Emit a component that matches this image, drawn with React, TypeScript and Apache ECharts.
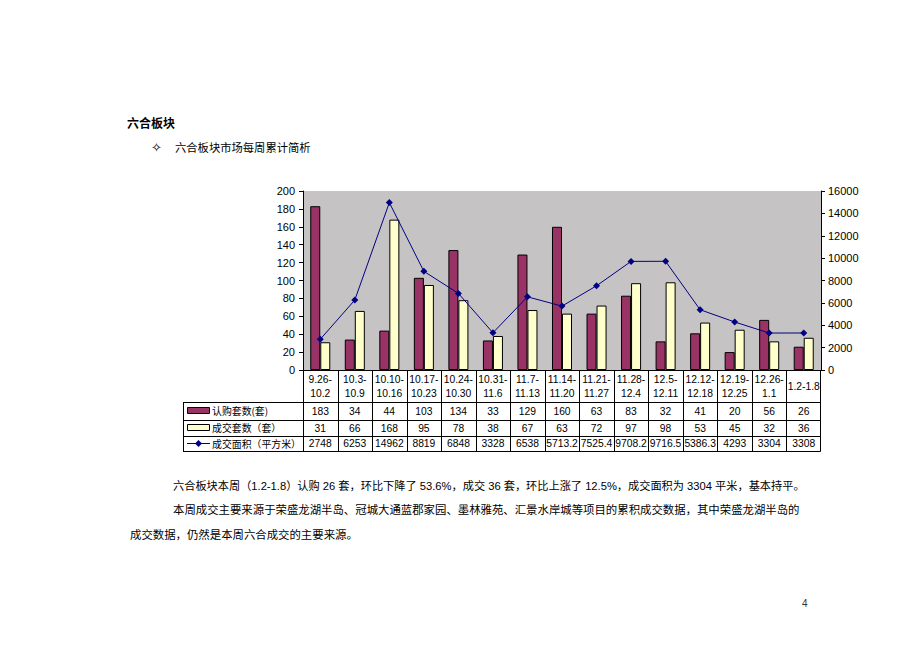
import React, { useEffect, useRef } from "react";
import * as echarts from "echarts";

const categories = [
  "9.26-10.2", "10.3-10.9", "10.10-10.16", "10.17-10.23", "10.24-10.30",
  "10.31-11.6", "11.7-11.13", "11.14-11.20", "11.21-11.27", "11.28-12.4",
  "12.5-12.11", "12.12-12.18", "12.19-12.25", "12.26-1.1", "1.2-1.8",
];
const subscribed = [183, 34, 44, 103, 134, 33, 129, 160, 63, 83, 32, 41, 20, 56, 26];
const deals = [31, 66, 168, 95, 78, 38, 67, 63, 72, 97, 98, 53, 45, 32, 36];
const area = [2748, 6253, 14962, 8819, 6848, 3328, 6538, 5713.2, 7525.4, 9708.2, 9716.5, 5386.3, 4293, 3304, 3308];
const seriesNames = ["认购套数(套)", "成交套数（套）", "成交面积（平方米）"];

const heading = "六合板块";
const subTitle = "六合板块市场每周累计简析";
const paragraphs = [
  "六合板块本周（1.2-1.8）认购 26 套，环比下降了 53.6%，成交 36 套，环比上涨了 12.5%，成交面积为 3304 平米，基本持平。",
  "本周成交主要来源于荣盛龙湖半岛、冠城大通蓝郡家园、墨林雅苑、汇景水岸城等项目的累积成交数据，其中荣盛龙湖半岛的",
  "成交数据，仍然是本周六合成交的主要来源。",
];
const pageNumber = "4";

const PURPLE = "#993366";
const YELLOW = "#ffffcc";
const NAVY = "#000080";
const CJK = "'Noto Sans CJK SC', sans-serif";
const LAT = "'Liberation Sans', 'Noto Sans CJK SC', sans-serif";

export default function App() {
  const ref = useRef<HTMLDivElement>(null);
  useEffect(() => {
    if (!ref.current) return;
    const chart = echarts.init(ref.current, null, { renderer: "svg" });

    const GL = 303, GT = 191, GW = 518, GH = 179;
    const GB = GT + GH; // 370
    const GR = GL + GW; // 821
    const colW = GW / categories.length;
    const TL = 183;
    const rowLines = [402, 420, 436, 451];
    const rowCenters = [411, 428, 443.5];

    const g: any[] = [];
    const line = (x1: number, y1: number, x2: number, y2: number) =>
      g.push({ type: "line", shape: { x1, y1, x2, y2 }, style: { stroke: "#000", lineWidth: 1 }, silent: true });

    // table borders
    rowLines.forEach((y) => line(TL, y + 0.5, GR - 0.5, y + 0.5));
    line(TL + 0.5, rowLines[0], TL + 0.5, rowLines[3] + 0.5);
    for (let i = 0; i <= categories.length; i++) {
      const x = Math.round(GL + i * colW) + 0.5 - (i === categories.length ? 1 : 0);
      line(x, GB, x, rowLines[3] + 0.5);
    }

    // header labels
    categories.forEach((c, i) => {
      const cx = GL + (i + 0.5) * colW;
      const txt = c.length > 7 ? c.replace("-", "-\n") : c;
      g.push({
        type: "text", x: cx, y: 386,
        style: { text: txt, font: `10.3px ${LAT}`, fill: "#000", align: "center", verticalAlign: "middle", lineHeight: 14 },
      });
    });

    // data rows
    const rows = [subscribed, deals, area];
    rows.forEach((arr, r) => {
      arr.forEach((v, i) => {
        const cx = GL + (i + 0.5) * colW;
        g.push({
          type: "text", x: cx, y: rowCenters[r],
          style: { text: String(v), font: `10.3px ${LAT}`, fill: "#000", align: "center", verticalAlign: "middle" },
        });
      });
      g.push({
        type: "text", x: 212, y: rowCenters[r],
        style: { text: seriesNames[r], font: `9.9px ${CJK}`, fill: "#000", align: "left", verticalAlign: "middle" },
      });
    });

    // legend keys
    g.push({ type: "rect", shape: { x: 187.5, y: 407.5, width: 22, height: 6 }, style: { fill: PURPLE, stroke: "#000", lineWidth: 1 } });
    g.push({ type: "rect", shape: { x: 187.5, y: 424.5, width: 22, height: 6 }, style: { fill: YELLOW, stroke: "#000", lineWidth: 1 } });
    g.push({ type: "line", shape: { x1: 187, y1: 443.5, x2: 210, y2: 443.5 }, style: { stroke: NAVY, lineWidth: 1 } });
    g.push({ type: "polygon", shape: { points: [[198.5, 440], [202, 443.5], [198.5, 447], [195, 443.5]] }, style: { fill: NAVY } });

    // page texts
    g.push({ type: "text", x: 127, y: 122, style: { text: heading, font: `bold 12px ${CJK}`, fill: "#000", verticalAlign: "middle" } });
    g.push({ type: "text", x: 151, y: 147, style: { text: "✧", font: `13px 'DejaVu Sans'`, fill: "#000", verticalAlign: "middle" } });
    g.push({ type: "text", x: 175, y: 147, style: { text: subTitle, font: `11.3px ${CJK}`, fill: "#000", verticalAlign: "middle" } });
    const px = [173, 173, 130];
    const py = [486, 510, 535];
    const ps = [11.2, 11.4, 11.4];
    paragraphs.forEach((p, i) => {
      g.push({ type: "text", x: px[i], y: py[i], style: { text: p, font: `${ps[i]}px ${LAT}`, fill: "#000", verticalAlign: "middle" } });
    });
    g.push({ type: "text", x: 802, y: 603, style: { text: pageNumber, font: `10px ${LAT}`, fill: "#333", verticalAlign: "middle" } });

    chart.setOption({
      animation: false,
      backgroundColor: "#fff",
      grid: {
        left: GL, top: GT, width: GW, height: GH,
        show: true, backgroundColor: "#c6c3c5", borderWidth: 0, containLabel: false,
      },
      xAxis: {
        type: "category", data: categories,
        axisLine: { lineStyle: { color: "#000", width: 1 } },
        axisTick: { show: false }, axisLabel: { show: false }, splitLine: { show: false },
      },
      yAxis: [
        {
          type: "value", min: 0, max: 200, interval: 20, position: "left",
          axisLine: { show: true, lineStyle: { color: "#000" } },
          axisTick: { show: true, length: 4, lineStyle: { color: "#000" } },
          axisLabel: { color: "#000", fontSize: 11, fontFamily: "Liberation Sans", margin: 8 },
          splitLine: { show: false },
        },
        {
          type: "value", min: 0, max: 16000, interval: 2000, position: "right",
          axisLine: { show: true, lineStyle: { color: "#000" } },
          axisTick: { show: true, length: 4, lineStyle: { color: "#000" } },
          axisLabel: {
            color: "#000", fontSize: 11, fontFamily: "Liberation Sans", margin: 7,
            formatter: (v: number) => String(v),
          },
          splitLine: { show: false },
        },
      ],
      series: [
        {
          name: seriesNames[0], type: "bar", data: subscribed, barGap: "0%", barCategoryGap: "42%",
          itemStyle: { color: PURPLE, borderColor: "#000", borderWidth: 1 },
        },
        {
          name: seriesNames[1], type: "bar", data: deals, barGap: "0%", barCategoryGap: "42%",
          itemStyle: { color: YELLOW, borderColor: "#000", borderWidth: 1 },
        },
        {
          name: seriesNames[2], type: "line", yAxisIndex: 1, data: area,
          symbol: "diamond", symbolSize: 7,
          lineStyle: { color: NAVY, width: 1 }, itemStyle: { color: NAVY },
        },
      ],
      graphic: g,
    });
    return () => chart.dispose();
  }, []);
  return (
    <div
      ref={ref}
      style={{ position: "fixed", left: 0, top: 0, width: 920, height: 651, background: "#fff" }}
    />
  );
}
